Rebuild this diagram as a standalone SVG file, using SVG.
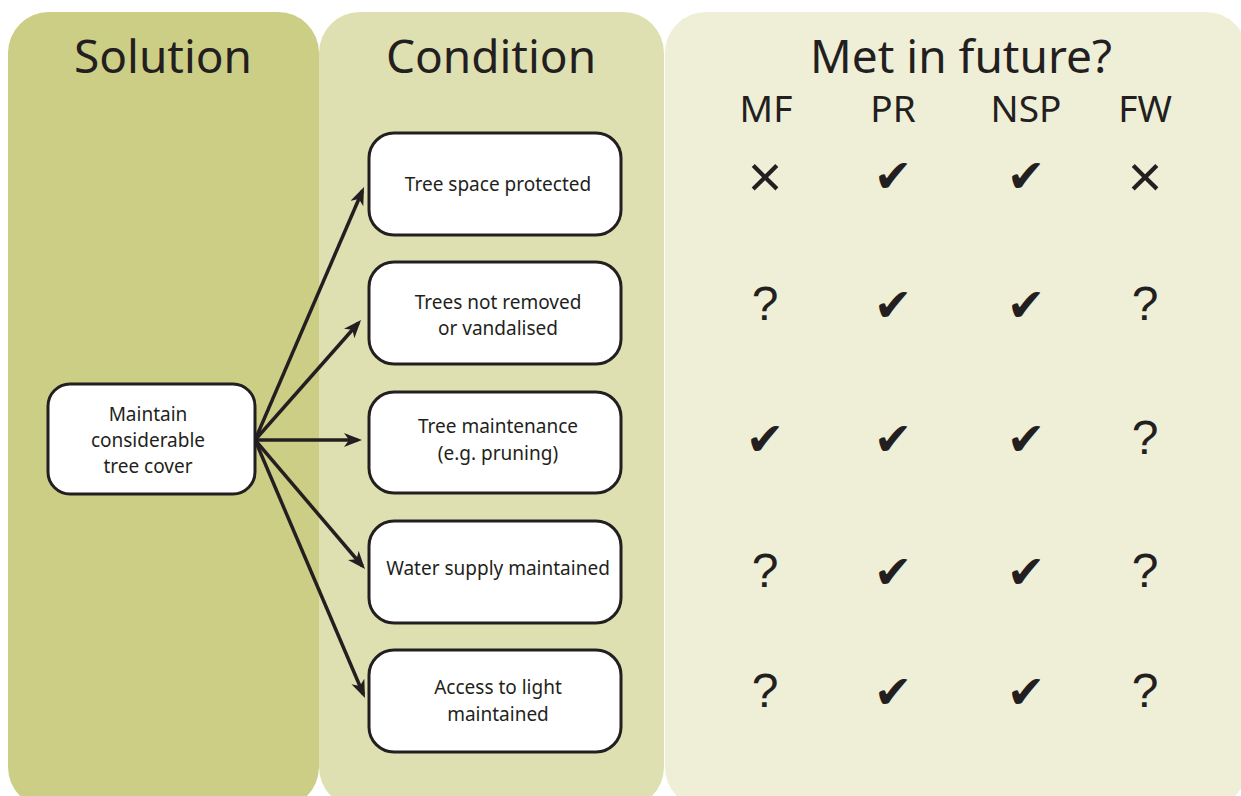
<svg xmlns="http://www.w3.org/2000/svg" width="1241" height="796" viewBox="0 0 1241 796">
<defs>
<style>
.hd{font-family:"Noto Sans","Open Sans",sans-serif;font-size:46px;fill:#231F20;text-anchor:middle}
.col{font-family:"Noto Sans","Open Sans",sans-serif;font-size:37px;fill:#231F20;text-anchor:middle}
.lb{font-family:"Noto Sans","Open Sans",sans-serif;font-size:19px;fill:#231F20;text-anchor:middle}
.box{fill:#FFFFFF;stroke:#231F20;stroke-width:3}
.ar{stroke:#231F20;stroke-width:3.5;fill:none;marker-end:url(#ah)}
.q{font-family:"Liberation Sans","DejaVu Sans",sans-serif;font-size:48px;fill:#231F20;text-anchor:middle}
.ck{font-family:"DejaVu Sans",sans-serif;font-size:46px;fill:#231F20;text-anchor:middle}
.x{font-family:"Liberation Sans","DejaVu Sans",sans-serif;font-size:60px;fill:#231F20;text-anchor:middle}
</style>
<marker id="ah" markerUnits="userSpaceOnUse" markerWidth="20" markerHeight="16" refX="14" refY="7" orient="auto">
<path d="M0,0 L18,7 L0,14 L5,7 z" fill="#231F20"/>
</marker>
</defs>
<rect width="1241" height="796" fill="#FFFFFF"/>
<g id="panels">
<rect x="8" y="12" width="311" height="796" rx="41" fill="#CDCE86"/>
<rect x="319" y="12" width="345" height="796" rx="41" fill="#DFE0B1"/>
<rect x="665" y="12" width="582" height="796" rx="41" fill="#EFEFD7"/>
</g>
<g id="headers">
<text class="hd" x="163" y="73">Solution</text>
<text class="hd" x="491" y="73">Condition</text>
<text class="hd" x="961" y="73">Met in future?</text>
<text class="col" x="766" y="122">MF</text>
<text class="col" x="893" y="122">PR</text>
<text class="col" x="1026" y="122">NSP</text>
<text class="col" x="1145" y="122">FW</text>
</g>
<g id="connectors">
<line class="ar" x1="255" y1="440" x2="362.4" y2="190.7"/>
<line class="ar" x1="255" y1="440" x2="358.4" y2="323"/>
<line class="ar" x1="255" y1="440" x2="358" y2="440"/>
<line class="ar" x1="255" y1="440" x2="362.4" y2="566"/>
<line class="ar" x1="255" y1="440" x2="363.4" y2="694.3"/>
</g>
<g id="node-solution">
<rect class="box" x="48" y="384" width="207" height="110" rx="22"/>
<text class="lb" x="148" y="421">Maintain</text>
<text class="lb" x="148" y="447">considerable</text>
<text class="lb" x="148" y="473">tree cover</text>
</g>
<g id="node-c1">
<rect class="box" x="369" y="133" width="252" height="102" rx="25"/>
<text class="lb" x="498" y="191">Tree space protected</text>
</g>
<g id="node-c2">
<rect class="box" x="369" y="262" width="252" height="102" rx="25"/>
<text class="lb" x="498" y="309">Trees not removed</text>
<text class="lb" x="498" y="335">or vandalised</text>
</g>
<g id="node-c3">
<rect class="box" x="369" y="392" width="252" height="101" rx="25"/>
<text class="lb" x="498" y="433">Tree maintenance</text>
<text class="lb" x="498" y="460">(e.g. pruning)</text>
</g>
<g id="node-c4">
<rect class="box" x="369" y="521" width="252" height="102" rx="25"/>
<text class="lb" x="498" y="575">Water supply maintained</text>
</g>
<g id="node-c5">
<rect class="box" x="369" y="650" width="252" height="102" rx="25"/>
<text class="lb" x="498" y="694">Access to light</text>
<text class="lb" x="498" y="721">maintained</text>
</g>
<g id="matrix">
<text class="x" x="765" y="197">×</text>
<text class="ck" x="893" y="192">✔</text>
<text class="ck" x="1026" y="192">✔</text>
<text class="x" x="1145" y="197">×</text>
<text class="q" x="765" y="320">?</text>
<text class="ck" x="893" y="321">✔</text>
<text class="ck" x="1026" y="321">✔</text>
<text class="q" x="1145" y="320">?</text>
<text class="ck" x="765" y="455">✔</text>
<text class="ck" x="893" y="455">✔</text>
<text class="ck" x="1026" y="455">✔</text>
<text class="q" x="1145" y="454">?</text>
<text class="q" x="765" y="587">?</text>
<text class="ck" x="893" y="588">✔</text>
<text class="ck" x="1026" y="588">✔</text>
<text class="q" x="1145" y="587">?</text>
<text class="q" x="765" y="707">?</text>
<text class="ck" x="893" y="708">✔</text>
<text class="ck" x="1026" y="708">✔</text>
<text class="q" x="1145" y="707">?</text>
</g>
</svg>
